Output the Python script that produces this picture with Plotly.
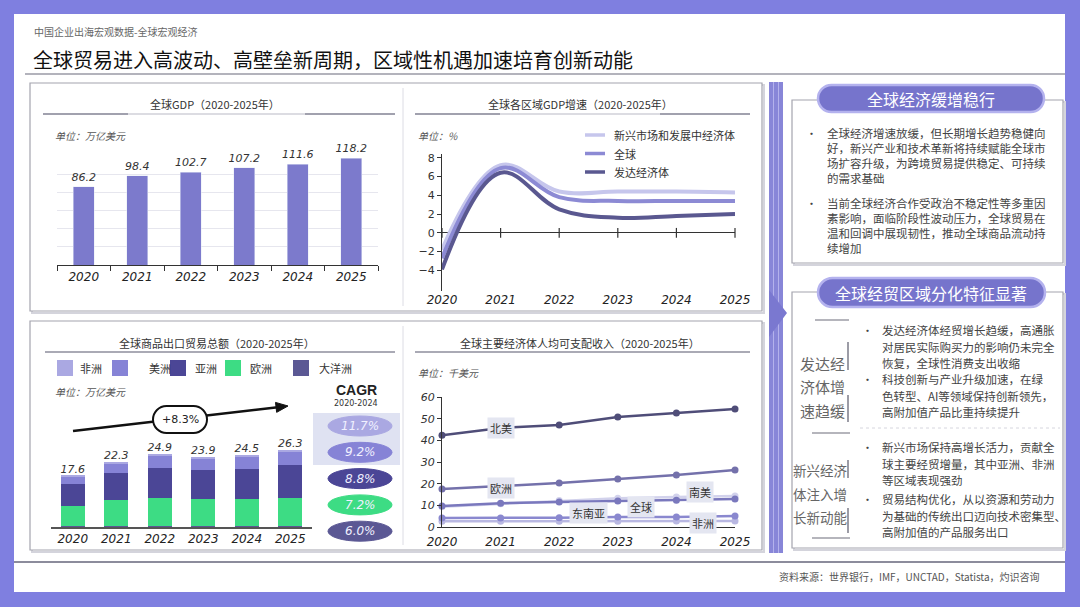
import plotly.graph_objects as go

W, H = 1080, 607
FONT = "Noto Sans CJK SC"
NUM_FONT = "DejaVu Sans"

# ---- data ----
years = [2020, 2021, 2022, 2023, 2024, 2025]
year_labels = [str(y) for y in years]

gdp_total = [86.2, 98.4, 102.7, 107.2, 111.6, 118.2]

growth_names = ["新兴市场和发展中经济体", "全球", "发达经济体"]
growth_emerging = [-1.8, 7.2, 4.4, 4.4, 4.4, 4.3]
growth_world = [-2.7, 6.9, 3.8, 3.4, 3.4, 3.4]
growth_advanced = [-3.9, 6.4, 2.5, 1.6, 1.8, 2.0]
growth_ticks = [-4, -2, 0, 2, 4, 6, 8]

trade_regions = ["非洲", "美洲", "亚洲", "欧洲", "大洋洲"]
trade_africa = [0.5, 0.6, 0.7, 0.7, 0.7, 0.8]
trade_americas = [2.5, 3.4, 4.0, 3.9, 3.9, 4.2]
trade_asia = [7.4, 9.1, 10.4, 9.8, 10.4, 11.5]
trade_europe = [6.9, 8.9, 9.5, 9.2, 9.2, 9.5]
trade_oceania = [0.3, 0.3, 0.3, 0.3, 0.3, 0.3]
trade_total = [17.6, 22.3, 24.9, 23.9, 24.5, 26.3]
trade_cagr = ["11.7%", "9.2%", "8.8%", "7.2%", "6.0%"]
trade_growth = "+8.3%"

income_names = ["北美", "欧洲", "南美", "全球", "东南亚", "非洲"]
income_north_america = [42.3, 45.7, 47.1, 50.8, 52.6, 54.5]
income_europe = [17.5, 18.9, 20.3, 22.1, 24.0, 26.3]
income_south_america = [9.3, 10.7, 12.2, 13.3, 13.8, 14.3]
income_world = [9.7, 11.0, 11.5, 12.0, 12.3, 12.9]
income_sea = [4.1, 4.1, 4.3, 4.6, 4.6, 5.1]
income_africa = [2.6, 2.6, 2.7, 2.7, 2.8, 2.8]
# where each series name sits on the chart (year, value)
income_label_x = [2021.0, 2021.0, 2024.4, 2023.4, 2022.5, 2024.45]
income_label_y = [45.7, 18.0, 16.2, 9.2, 6.5, 1.8]

box1_para1 = ["全球经济增速放缓，但长期增长趋势稳健向", "好，新兴产业和技术革新将持续赋能全球市",
              "场扩容升级，为跨境贸易提供稳定、可持续", "的需求基础"]
box1_para2 = ["当前全球经济合作受政治不稳定性等多重因", "素影响，面临阶段性波动压力，全球贸易在",
              "温和回调中展现韧性，推动全球商品流动持", "续增加"]
box2_group1 = ["发达经", "济体增", "速趋缓"]
box2_group2 = ["新兴经济", "体注入增", "长新动能"]
box2_paras = [
    ["发达经济体经贸增长趋缓，高通胀", "对居民实际购买力的影响仍未完全", "恢复，全球性消费支出收缩"],
    ["科技创新与产业升级加速，在绿", "色转型、AI等领域保持创新领先，", "高附加值产品比重持续提升"],
    ["新兴市场保持高增长活力，贡献全", "球主要经贸增量，其中亚洲、非洲", "等区域表现强劲"],
    ["贸易结构优化，从以资源和劳动力", "为基础的传统出口迈向技术密集型、", "高附加值的产品服务出口"],
]

# ---- colours ----
FRAME = "#7f7fe0"
C_GDP = "#7c7acc"
growth_colors = ["#c6c6ec", "#8c8ad4", "#5a5890"]
trade_colors = ["#aaa8e2", "#8683d6", "#4b4696", "#3ddc84", "#5b5894"]
income_colors = ["#4f4d78", "#7471ab", "#d2d2ec", "#7a78bd", "#8a88cf", "#b9b8e2"]


def px(x):
    return x / W


def py(y):
    return 1 - y / H


shapes = []
annotations = []


def rect(x0, y0, x1, y1, fill=None, line=None, width=1, layer="below"):
    shapes.append(dict(type="rect", xref="paper", yref="paper",
                       x0=px(x0), x1=px(x1), y0=py(y1), y1=py(y0),
                       fillcolor=fill or "rgba(0,0,0,0)",
                       line=dict(color=line or "rgba(0,0,0,0)", width=width if line else 0),
                       layer=layer))


def seg(x0, y0, x1, y1, color, width=1, dash="solid", layer="below"):
    shapes.append(dict(type="line", xref="paper", yref="paper",
                       x0=px(x0), x1=px(x1), y0=py(y0), y1=py(y1),
                       line=dict(color=color, width=width, dash=dash), layer=layer))


def pill(x0, y0, x1, y1, fill, line, width, layer="below"):
    r = (y1 - y0) / 2
    k = 0.5523 * r
    p = lambda x, y: f"{px(x):.5f},{py(y):.5f}"
    path = (f"M{p(x0 + r, y0)} L{p(x1 - r, y0)} "
            f"C{p(x1 - r + k, y0)} {p(x1, y0 + r - k)} {p(x1, y0 + r)} "
            f"C{p(x1, y0 + r + k)} {p(x1 - r + k, y1)} {p(x1 - r, y1)} "
            f"L{p(x0 + r, y1)} "
            f"C{p(x0 + r - k, y1)} {p(x0, y1 - r + k)} {p(x0, y1 - r)} "
            f"C{p(x0, y1 - r - k)} {p(x0 + r - k, y0)} {p(x0 + r, y0)} Z")
    shapes.append(dict(type="path", xref="paper", yref="paper", path=path,
                       fillcolor=fill, line=dict(color=line, width=width), layer=layer))


def text(x, y, s, size=11, color="#333", anchor="center", family=FONT, style="normal", **kw):
    annotations.append(dict(xref="paper", yref="paper", x=px(x), y=py(y), text=s, showarrow=False,
                            xanchor=anchor, yanchor="middle",
                            font=dict(size=size, color=color, family=family, style=style), **kw))


# ---- page frame ----
rect(14, 14, 1065, 592, fill="white")
text(32, 32, "中国企业出海宏观数据-全球宏观经济", size=10, color="#666", anchor="left")
text(31, 60, "全球贸易进入高波动、高壁垒新周期，区域性机遇加速培育创新动能", size=20, color="#111", anchor="left")
seg(25, 74, 1065, 74, "#9a9aa6", 1.5)
seg(14, 562, 1065, 562, "#8c8c9c", 2)
text(1042, 576, "资料来源：世界银行，IMF，UNCTAD，Statista，灼识咨询", size=10, color="#555", anchor="right")

# chart boxes
for top, bottom in [(83, 311), (321, 550)]:
    rect(32, top + 2, 764, bottom + 2, line="#d4d4dc", width=2)
    rect(30, top, 762, bottom, fill="white", line="#a4a4ae", width=1.2)
    seg(403, top + 5, 403, bottom - 5, "#dcdce4", 1)

# chart titles and underlines
for cx, cy, title in [(215, 104, "全球GDP（2020-2025年）"), (580, 104, "全球各区域GDP增速（2020-2025年）"),
                      (217, 343, "全球商品出口贸易总额（2020-2025年）"),
                      (580, 343, "全球主要经济体人均可支配收入（2020-2025年）")]:
    text(cx, cy, title, size=11, color="#333")
for x0, x1, y in [(43, 395, 114), (415, 750, 114)]:
    seg(x0, y, x1, y, "#d0d0d8", 1.5)
    seg(x0, y, x0 + 85, y, "#8e8e9c", 1.5)
    seg(x1 - 90, y, x1, y, "#8e8e9c", 1.5)
seg(45, 352, 395, 352, "#8e8e9c", 1.5)
seg(415, 352, 750, 352, "#8e8e9c", 1.5)

text(53, 136, "单位：万亿美元", size=10, color="#555", anchor="left", style="italic")
text(416, 136, "单位：%", size=10, color="#555", anchor="left", style="italic")
text(53, 391, "单位：万亿美元", size=10, color="#555", anchor="left", style="italic")
text(416, 372, "单位：千美元", size=10, color="#555", anchor="left", style="italic")

# growth legend
for i, (name, col) in enumerate(zip(growth_names, growth_colors)):
    y = 135 + i * 18.5
    seg(585, y, 605, y, col, 3.5)
    text(612, y, name, size=11, color="#333", anchor="left")

# trade legend
sq_left = [57, 112, 170, 225, 293]
tx_left = [78, 147, 193, 248, 317]
for i, (name, col) in enumerate(zip(trade_regions, trade_colors)):
    rect(sq_left[i], 360, sq_left[i] + 16, 376, fill=col)
    text(tx_left[i], 368, name, size=11, color="#333", anchor="left")

# CAGR column
rect(313, 413, 400, 465, fill="#dfe2f2")
text(356, 390, "<b>CAGR</b>", size=14, color="#222", family="Liberation Sans")
text(356, 403, "2020-2024", size=8, color="#333", family=NUM_FONT)
for i, (val, col) in enumerate(zip(trade_cagr, trade_colors)):
    cy = 426 + i * 26.3
    shapes.append(dict(type="circle", xref="paper", yref="paper", x0=px(328), x1=px(392),
                       y0=py(cy + 10), y1=py(cy - 10), fillcolor=col,
                       line=dict(color=col, width=1), layer="below"))
    text(360, cy, val, size=12, color="#f0f0ff", family=NUM_FONT, style="italic")

# growth arrow over the trade bars
tail, head = (73, 431), (288, 406)
seg(tail[0], tail[1], head[0] - 8, head[1] + 0.9, "#111", 2.5, layer="above")
dx, dy = head[0] - tail[0], head[1] - tail[1]
n = (dx ** 2 + dy ** 2) ** 0.5
ux, uy = dx / n, dy / n
bx, by = head[0] - 12 * ux, head[1] - 12 * uy
pts = [head, (bx - 5 * uy, by + 5 * ux), (bx + 5 * uy, by - 5 * ux)]
shapes.append(dict(type="path", xref="paper", yref="paper", layer="above",
                   path="M" + " L".join(f"{px(x):.5f},{py(y):.5f}" for x, y in pts) + " Z",
                   fillcolor="#111", line=dict(color="#111", width=1)))
pill(153, 406, 207, 433, "white", "#111", 2, layer="above")
text(180, 419.5, trade_growth, size=11, color="#222", family=NUM_FONT)

# vertical separator bar with arrow
rect(769, 82, 783, 553, fill="#8886d8")
seg(773.5, 82, 773.5, 553, "#b4b2ec", 1)
seg(778.5, 82, 778.5, 553, "#b4b2ec", 1)
shapes.append(dict(type="path", xref="paper", yref="paper", layer="below",
                   path=f"M{px(769)},{py(290)} L{px(787)},{py(313)} L{px(769)},{py(337)} Z",
                   fillcolor="#7a78d0", line=dict(width=0)))

# right panel boxes
for top, bottom in [(100, 263), (292, 548)]:
    rect(794, top + 2, 1065, bottom + 2, line="#d4d4dc", width=2)
    rect(792, top, 1063, bottom, fill="white", line="#a4a4ae", width=1.2)
pill(818, 85, 1044, 112, "#7674cc", "#b4b2ee", 2.5)
text(931, 98.5, "全球经济缓增稳行", size=16, color="white")
pill(818, 278, 1045, 307, "#7674cc", "#b4b2ee", 2.5)
text(931, 292.5, "全球经贸区域分化特征显著", size=16, color="white")

for start, para in [(133, box1_para1), (203, box1_para2)]:
    text(811, start, "•", size=11, color="#444")
    for j, line in enumerate(para):
        text(825, start + j * 15, line, size=11.5, color="#444", anchor="left")

for j, s in enumerate(box2_group1):
    text(822, 363 + j * 23.5, s, size=15, color="#666")
for j, s in enumerate(box2_group2):
    text(820, 470 + j * 23.5, s, size=13.5, color="#666")
for x0, x1, y in [(815, 849, 320), (812, 850, 433), (812, 850, 538)]:
    seg(x0, y, x1, y, "#9c9ca6", 1.5)
for y0, y1 in [(342, 370), (395, 422), (460, 478), (508, 533)]:
    seg(848, y0, 848, y1, "#9c9ca6", 2)
seg(860, 428, 1060, 428, "#d6d6de", 1, dash="dot")

for start, para in zip([330, 379, 447, 499], box2_paras):
    text(867, start, "•", size=11, color="#444")
    for j, line in enumerate(para):
        text(880, start + j * 16.5, line, size=11.5, color="#444", anchor="left")

# ---- traces ----
fig = go.Figure()

fig.add_trace(go.Bar(
    x=year_labels, y=gdp_total, xaxis="x", yaxis="y", width=0.4, marker_color=C_GDP,
    text=[f"{v:.1f}" for v in gdp_total], textposition="outside", constraintext="none",
    cliponaxis=False, textfont=dict(size=11, color="#333", family=NUM_FONT, style="italic"),
))

for name, vals, col in zip(growth_names, [growth_emerging, growth_world, growth_advanced], growth_colors):
    fig.add_trace(go.Scatter(
        x=years, y=vals, xaxis="x2", yaxis="y2", mode="lines", name=name,
        line=dict(color=col, width=4, shape="spline", smoothing=1.1),
    ))
fig.add_trace(go.Scatter(
    x=years, y=[0] * len(years), xaxis="x2", yaxis="y2", mode="markers", cliponaxis=False,
    marker=dict(symbol="line-ns", size=7, line=dict(width=1.2, color="#333")),
))

trade_series = [trade_africa, trade_americas, trade_asia, trade_europe, trade_oceania]
for k in [4, 3, 2, 1, 0]:
    fig.add_trace(go.Bar(
        x=year_labels, y=trade_series[k], xaxis="x3", yaxis="y3", width=0.55,
        name=trade_regions[k], marker=dict(color=trade_colors[k], line=dict(width=0)),
    ))
fig.add_trace(go.Scatter(
    x=year_labels, y=trade_total, xaxis="x3", yaxis="y3", mode="text", cliponaxis=False,
    text=[f"{v:.1f}" for v in trade_total], textposition="top center",
    textfont=dict(size=11, color="#333", family=NUM_FONT, style="italic"),
))

income_series = [income_north_america, income_europe, income_south_america, income_world, income_sea, income_africa]
for k in [2, 5, 4, 3, 1, 0]:
    fig.add_trace(go.Scatter(
        x=years, y=income_series[k], xaxis="x4", yaxis="y4", mode="lines+markers", cliponaxis=False,
        name=income_names[k], line=dict(color=income_colors[k], width=2.5),
        marker=dict(size=7, color=income_colors[k]),
    ))
for k, name in enumerate(income_names):
    annotations.append(dict(xref="x4", yref="y4", x=income_label_x[k], y=income_label_y[k], text=name,
                            showarrow=False, bgcolor="#e4e6f1", borderpad=2,
                            font=dict(size=11, color="#333", family=FONT)))

num_tick = dict(family=NUM_FONT, size=12, color="#222", style="italic")

fig.update_layout(
    width=W, height=H, margin=dict(l=0, r=0, t=0, b=0, pad=0, autoexpand=False),
    paper_bgcolor=FRAME, plot_bgcolor="rgba(0,0,0,0)",
    showlegend=False, barmode="stack", hovermode=False,
    font=dict(family=FONT),
    xaxis=dict(domain=[px(57), px(378)], anchor="y", type="category", showline=True,
               linecolor="#333", linewidth=1.2, ticks="outside", tickson="boundaries",
               ticklen=5, tickcolor="#333", tickfont=num_tick, showgrid=False, automargin=False),
    yaxis=dict(domain=[py(265), py(157.3)], anchor="x", range=[0, 119], dtick=20,
               showgrid=True, gridcolor="#e6e6ee", showticklabels=False, zeroline=False,
               automargin=False),
    xaxis2=dict(domain=[px(442), px(735)], anchor="y2", range=[2020, 2025], tickvals=years,
                ticktext=year_labels, showline=False, ticks="", showgrid=False, zeroline=False,
                tickfont=num_tick, automargin=False),
    yaxis2=dict(domain=[py(291), py(154)], anchor="x2", range=[-6.2, 8.4], tickvals=growth_ticks,
                showline=True, linecolor="#333", linewidth=1.2, ticks="outside", ticklen=4,
                tickcolor="#333", showgrid=False, zeroline=True, zerolinecolor="#333",
                zerolinewidth=1.3, tickfont=dict(family=NUM_FONT, size=11, color="#333"),
                automargin=False),
    xaxis3=dict(domain=[px(51), px(312)], anchor="y3", type="category", showline=True,
                linecolor="#555", linewidth=1.5, ticks="", showgrid=False, tickfont=num_tick,
                automargin=False),
    yaxis3=dict(domain=[py(527), py(439)], anchor="x3", range=[0, 30], visible=False),
    xaxis4=dict(domain=[px(442), px(735)], anchor="y4", range=[2020, 2025], tickvals=years,
                ticktext=year_labels, showline=True, linecolor="#333", linewidth=1.2, ticks="",
                showgrid=False, zeroline=False, tickfont=num_tick, ticklabelstandoff=3,
                automargin=False),
    yaxis4=dict(domain=[py(527), py(397)], anchor="x4", range=[0, 60], dtick=10,
                showline=True, linecolor="#333", linewidth=1.2, ticks="outside", ticklen=4,
                tickcolor="#333", showgrid=False, zeroline=False, automargin=False,
                tickfont=dict(family=NUM_FONT, size=11, color="#333", style="italic")),
    shapes=shapes, annotations=annotations,
)

# the page's default body margin would push the 1080x607 figure off the window
fig.write_html("out.html", config={"displayModeBar": False},
               post_script="document.body.style.margin='0';document.body.style.background='" + FRAME + "';")
